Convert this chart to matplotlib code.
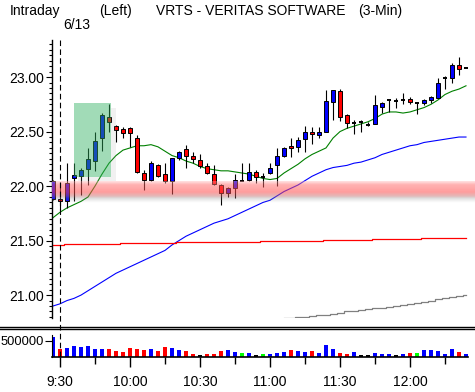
import numpy as np
import matplotlib
matplotlib.use('Agg')
import matplotlib.pyplot as plt
from matplotlib.patches import Rectangle
from matplotlib.lines import Line2D
from matplotlib.colors import LinearSegmentedColormap
from matplotlib.ticker import MultipleLocator, FixedLocator

plt.rcParams['font.family'] = ['Liberation Sans', 'DejaVu Sans']

# 3-min bars, index 0 = 9:30 on 6/13, index -1 = last bar of previous day
bars = list(range(-1, 59))
opens = [21.88, 21.88, 21.86, 22.07, 22.09, 22.16, 22.23, 22.44, 22.63, 22.55,
         22.52, 22.53, 22.44, 22.12, 22.06, 22.19, 22.11, 22.05, 22.26, 22.34,
         22.28, 22.24, 22.18, 22.11, 22.01, 21.94, 21.98, 22.05, 22.06, 22.13,
         22.08, 22.12, 22.19, 22.28, 22.37, 22.36, 22.43, 22.50, 22.47, 22.50,
         22.77, 22.87, 22.65, 22.58, 22.59, 22.56, 22.57, 22.73, 22.79, 22.78,
         22.79, 22.80, 22.76, 22.76, 22.79, 22.81, 22.99, 22.99, 23.11, 23.08]
highs = [22.06, 22.04, 22.21, 22.21, 22.17, 22.35, 22.50, 22.67, 22.75, 22.56,
         22.54, 22.54, 22.47, 22.15, 22.23, 22.20, 22.21, 22.26, 22.32, 22.38,
         22.31, 22.29, 22.21, 22.19, 22.02, 21.99, 22.11, 22.21, 22.21, 22.15,
         22.12, 22.21, 22.35, 22.36, 22.44, 22.45, 22.55, 22.54, 22.54, 22.88,
         22.88, 22.89, 22.66, 22.61, 22.61, 22.59, 22.84, 22.77, 22.79, 22.81,
         22.85, 22.82, 22.76, 22.80, 22.83, 22.99, 23.01, 23.13, 23.18, 23.08]
lows = [21.87, 21.78, 21.80, 21.86, 21.92, 22.01, 22.14, 22.32, 22.50, 22.40,
        22.44, 22.36, 22.12, 21.96, 22.05, 22.08, 22.03, 21.93, 22.24, 22.17,
        22.21, 22.17, 22.11, 22.01, 21.83, 21.90, 21.89, 22.05, 22.05, 22.03,
        21.99, 22.11, 22.00, 22.27, 22.27, 22.31, 22.31, 22.39, 22.44, 22.50,
        22.61, 22.60, 22.53, 22.48, 22.50, 22.55, 22.57, 22.67, 22.68, 22.72,
        22.75, 22.75, 22.66, 22.74, 22.76, 22.81, 22.89, 22.95, 23.02, 23.08]
closes = [22.05, 21.86, 22.03, 22.10, 22.15, 22.25, 22.41, 22.65, 22.59, 22.51,
          22.49, 22.49, 22.13, 22.06, 22.21, 22.09, 22.05, 22.26, 22.31, 22.28,
          22.25, 22.18, 22.12, 22.02, 21.94, 21.98, 22.06, 22.05, 22.13, 22.08,
          22.08, 22.17, 22.28, 22.35, 22.35, 22.42, 22.50, 22.48, 22.50, 22.78,
          22.88, 22.63, 22.58, 22.58, 22.59, 22.56, 22.74, 22.76, 22.79, 22.78,
          22.79, 22.77, 22.76, 22.79, 22.82, 22.95, 22.99, 23.11, 23.07, 23.08]

ma_green = [21.71, 21.76, 21.80, 21.83, 21.86, 21.90, 22.00, 22.11, 22.21, 22.28,
            22.33, 22.35, 22.37, 22.37, 22.38, 22.36, 22.32, 22.28, 22.26, 22.23,
            22.21, 22.18, 22.16, 22.15, 22.14, 22.14, 22.13, 22.12, 22.11, 22.09,
            22.07, 22.06, 22.07, 22.12, 22.16, 22.20, 22.25, 22.29, 22.32, 22.35,
            22.44, 22.50, 22.53, 22.55, 22.57, 22.59, 22.62, 22.66, 22.68, 22.68,
            22.67, 22.68, 22.70, 22.72, 22.75, 22.79, 22.84, 22.87, 22.89, 22.92]
ma_blue = [20.90, 20.92, 20.95, 20.97, 21.00, 21.04, 21.08, 21.12, 21.16, 21.20,
           21.23, 21.26, 21.29, 21.32, 21.35, 21.38, 21.41, 21.46, 21.50, 21.54,
           21.57, 21.60, 21.63, 21.66, 21.68, 21.70, 21.73, 21.76, 21.79, 21.82,
           21.85, 21.87, 21.91, 21.95, 21.98, 22.01, 22.05, 22.09, 22.12, 22.15,
           22.17, 22.18, 22.19, 22.21, 22.22, 22.24, 22.26, 22.29, 22.31, 22.33,
           22.35, 22.37, 22.38, 22.40, 22.41, 22.42, 22.43, 22.44, 22.45, 22.45]
ma_red = [21.460, 21.460,
          21.466, 21.466, 21.466, 21.466, 21.466, 21.466, 21.466, 21.466,
          21.475, 21.475, 21.475, 21.475, 21.475, 21.475, 21.475, 21.475,
          21.484, 21.484, 21.484, 21.484, 21.484, 21.484, 21.484, 21.484, 21.484, 21.484, 21.484, 21.484,
          21.493, 21.493, 21.493, 21.493, 21.493, 21.493, 21.493, 21.493, 21.493,
          21.502, 21.502, 21.502, 21.502, 21.502, 21.502, 21.502,
          21.511, 21.511, 21.511, 21.511, 21.511, 21.511, 21.511,
          21.520, 21.520, 21.520, 21.520, 21.520, 21.520, 21.520]
gray_bars = list(range(32, 59))
ma_gray = [20.79, 20.79, 20.80, 20.80, 20.81, 20.82, 20.82, 20.83, 20.84, 20.85,
           20.85, 20.86, 20.87, 20.88, 20.88, 20.89, 20.90, 20.91, 20.92, 20.93,
           20.94, 20.95, 20.96, 20.97, 20.98, 20.99, 21.00]

volumes = [604000, 260000, 292000, 344000, 323000, 344000, 260000, 260000, 260000, 198000,
           156000, 292000, 260000, 229000, 260000, 198000, 323000, 292000, 229000, 198000,
           104000, 73000, 104000, 104000, 198000, 229000, 160000, 130000, 130000, 73000,
           104000, 104000, 135000, 167000, 229000, 198000, 167000, 198000, 135000, 365000,
           240000, 135000, 104000, 167000, 73000, 52000, 135000, 104000, 104000, 73000,
           104000, 135000, 135000, 229000, 229000, 198000, 104000, 260000, 167000, 104000]
vol_colors = list('brbbbbbbrrrrrrbrrbbrrkrrrbbgbkgbbbrbbrbbbrrbkkbbbkbrgbbbbbrb')

time_ticks = [0, 10, 20, 30, 40, 50]
time_labels = ['9:30', '10:00', '10:30', '11:00', '11:30', '12:00']
minor_ticks = [5, 15, 25, 35, 45, 55]

band_low, band_high = 21.89, 22.04
box_x0, box_x1, box_y0, box_y1 = 2.0, 7.24, 22.085, 22.76

W, H = 475, 392
fig = plt.figure(figsize=(W / 100, H / 100), dpi=100)


def box(l, t, r, b):
    return [l / W, 1 - b / H, (r - l) / W, (b - t) / H]


x_lo, x_hi = (52 - 60) / 7, (475 - 60) / 7
ax = fig.add_axes(box(52, 40, 475, 318))
axv = fig.add_axes(box(52, 330, 475, 357))

BLUE, RED = '#0000ff', '#ff0000'
COLS = {'b': BLUE, 'r': RED, 'g': '#00ff00', 'k': 'black'}

# candles
for i, o, h, l, c in zip(bars, opens, highs, lows, closes):
    ax.vlines(i, l, h, color='black', lw=0.8, zorder=3)
    if c == o:
        ax.hlines(c, i - 0.33, i + 0.33, color='black', lw=1.4, zorder=3)
    else:
        ax.bar(i, abs(c - o), bottom=min(o, c), width=0.6,
               color=BLUE if c > o else RED, edgecolor='black', lw=0.7, zorder=3)

ax.plot(bars, ma_green, color='#008000', lw=0.8, zorder=2)
ax.plot(bars, ma_blue, color=BLUE, lw=0.8, zorder=2)
ax.plot(bars, ma_red, color=RED, lw=0.9, drawstyle='steps-mid', zorder=2)
ax.plot(gray_bars, ma_gray, color='#808080', lw=0.9, drawstyle='steps-mid', zorder=2)

# pink support band with soft shadow
band_cmap = LinearSegmentedColormap.from_list('band', [
    (0.0, (0.6, 0.6, 0.6, 0.0)),
    (0.2, (0.5, 0.5, 0.5, 0.25)),
    (0.3, (0.75, 0.4, 0.4, 0.45)),
    (0.5, (1.0, 0.3, 0.3, 0.55)),
    (0.85, (1.0, 0.4, 0.4, 0.5)),
    (1.0, (1.0, 0.7, 0.7, 0.4))])
grad = np.linspace(0, 1, 40).reshape(-1, 1)
ax.imshow(grad, cmap=band_cmap, aspect='auto', origin='lower',
          extent=[x_lo, x_hi, band_low - 0.045, band_high], zorder=4,
          interpolation='bilinear')

# highlighted box with soft shadow
ax.add_patch(Rectangle((box_x1, box_y0 - 0.035), 0.7, box_y1 - box_y0 - 0.01,
                       color='#999999', alpha=0.13, lw=0, zorder=4))
ax.add_patch(Rectangle((box_x0 + 0.5, box_y0 - 0.035), box_x1 - box_x0 - 0.5, 0.035,
                       color='#999999', alpha=0.13, lw=0, zorder=4))
ax.add_patch(Rectangle((box_x0, box_y0), box_x1 - box_x0, box_y1 - box_y0,
                       color='#30b060', alpha=0.45, lw=0, zorder=5))

ax.set_xlim(x_lo, x_hi)
ax.set_ylim(20.79, 23.34)
for s in ['top', 'right', 'bottom']:
    ax.spines[s].set_visible(False)
ax.spines['left'].set_linewidth(1.0)
ax.set_xticks([])
ax.yaxis.set_major_locator(MultipleLocator(0.5))
ax.yaxis.set_minor_locator(MultipleLocator(0.05))
ax.yaxis.set_major_formatter(plt.FuncFormatter(lambda v, p: f'{v:.2f}'))
ax.tick_params(axis='y', which='major', length=4, width=0.8, pad=1.5, labelsize=10)
ax.tick_params(axis='y', which='minor', length=2, width=0.8)
ax.patch.set_visible(False)

# volume
axv.bar(bars, volumes, width=0.6, color=[COLS[c] for c in vol_colors], lw=0, zorder=2)
axv.set_xlim(x_lo, x_hi)
axv.set_ylim(0, 834000)
for s in ['top', 'right']:
    axv.spines[s].set_visible(False)
axv.spines['bottom'].set_bounds(x_lo, 58.35)
axv.spines['left'].set_bounds(0, 680000)
axv.spines['bottom'].set_linewidth(1.2)
axv.set_yticks([500000])
axv.set_yticklabels(['500000'])
axv.tick_params(axis='y', length=5, width=0.8, pad=1, labelsize=9.3)
axv.xaxis.set_major_locator(FixedLocator(time_ticks))
axv.xaxis.set_minor_locator(FixedLocator(minor_ticks))
axv.set_xticklabels(time_labels)
axv.tick_params(axis='x', which='major', length=7.5, width=1.0, pad=5.5, labelsize=10)
axv.tick_params(axis='x', which='minor', length=5, width=1.0)
axv.patch.set_visible(False)

# separators and day marker
for yy in (327.2, 329.4):
    fig.add_artist(Line2D([0, 1], [1 - yy / H, 1 - yy / H], color='black', lw=1.0))
fig.add_artist(Line2D([60 / W, 60 / W], [1 - 40 / H, 1 - 357 / H], color='black',
                      lw=0.8, ls=(0, (5, 3)), zorder=6))

tkw = dict(fontsize=10, va='center', ha='left')
fig.text(10 / W, 1 - 11 / H, 'Intraday', **tkw)
fig.text(99 / W, 1 - 11 / H, '(Left)', **tkw)
fig.text(156 / W, 1 - 11 / H, 'VRTS - VERITAS SOFTWARE', **tkw)
fig.text(358 / W, 1 - 11 / H, '(3-Min)', **tkw)
fig.text(63 / W, 1 - 25 / H, '6/13', **tkw)

fig.savefig('out.png', dpi=100)
